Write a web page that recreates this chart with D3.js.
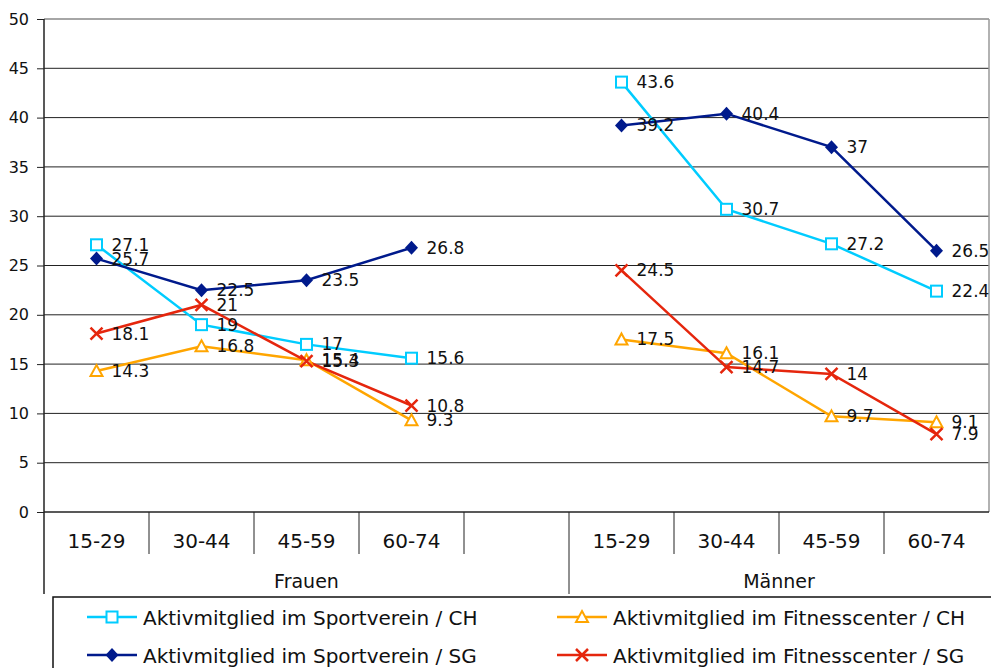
<!DOCTYPE html>
<html>
<head>
<meta charset="utf-8">
<script src="https://cdn.jsdelivr.net/npm/d3@7"></script>
<style>
  body { margin: 0; background: #fff; }
  text { font-family: "DejaVu Sans", Verdana, sans-serif; fill: #111; }
</style>
</head>
<body>
<div id="chart"></div>
<script>
// slots on the category axis (one empty slot between the groups)
var slots = ["F1", "F2", "F3", "F4", "gap", "M1", "M2", "M3", "M4"];
var slotLabels = ["15-29", "30-44", "45-59", "60-74", "", "15-29", "30-44", "45-59", "60-74"];
var groups = ["Frauen", "Männer"];
var yTicks = [0, 5, 10, 15, 20, 25, 30, 35, 40, 45, 50];

var seriesNames = [
  "Aktivmitglied im Sportverein / CH",
  "Aktivmitglied im Fitnesscenter / CH",
  "Aktivmitglied im Sportverein / SG",
  "Aktivmitglied im Fitnesscenter / SG"
];

// values per slot, null = no point
var sportCH   = [27.1, 19, 17, 15.6, null, 43.6, 30.7, 27.2, 22.4];
var fitnessCH = [14.3, 16.8, 15.4, 9.3, null, 17.5, 16.1, 9.7, 9.1];
var sportSG   = [25.7, 22.5, 23.5, 26.8, null, 39.2, 40.4, 37, 26.5];
var fitnessSG = [18.1, 21, 15.3, 10.8, null, 24.5, 14.7, 14, 7.9];

var svgWidth = 991;
var svgHeight = 668;

var margin = { top: 19, right: 2, bottom: 156, left: 44 };
var width = svgWidth - margin.left - margin.right;
var height = svgHeight - margin.top - margin.bottom;

var svg = d3.select("#chart")
  .append("svg")
  .attr("width", svgWidth)
  .attr("height", svgHeight);

var chartGroup = svg.append("g")
  .attr("transform", `translate(${margin.left}, ${margin.top})`);

var xScale = d3.scaleBand()
  .domain(slots)
  .range([0, width])
  .padding(0);

var yScale = d3.scaleLinear()
  .domain([0, 50])
  .range([height, 0]);

// gridlines
chartGroup.selectAll(".grid")
  .data(yTicks.filter(d => d > 0))
  .enter()
  .append("line")
  .attr("x1", 0)
  .attr("x2", width)
  .attr("y1", d => yScale(d))
  .attr("y2", d => yScale(d))
  .attr("stroke", d => d === 50 ? "#888" : "#222")
  .attr("stroke-width", d => d === 50 ? 1.5 : 1);

// right border
chartGroup.append("line")
  .attr("x1", width).attr("x2", width)
  .attr("y1", 0).attr("y2", height)
  .attr("stroke", "#999")
  .attr("stroke-width", 1.5);

// y axis
var leftAxis = d3.axisLeft(yScale).tickValues(yTicks).tickSize(7).tickPadding(8);
var yAxisG = chartGroup.append("g").call(leftAxis);
yAxisG.select(".domain").remove();
yAxisG.selectAll("line").attr("stroke", "#222");
yAxisG.selectAll("text")
  .style("font-family", "DejaVu Sans, Verdana, sans-serif")
  .style("font-size", "16px")
  .attr("fill", "#111");

chartGroup.append("line")
  .attr("x1", 0).attr("x2", 0)
  .attr("y1", 0).attr("y2", height + 82)
  .attr("stroke", "#222")
  .attr("stroke-width", 1.5);

// x axis baseline
chartGroup.append("line")
  .attr("x1", 0).attr("x2", width)
  .attr("y1", height).attr("y2", height)
  .attr("stroke", "#222")
  .attr("stroke-width", 1.5);

// category separators
slots.forEach(function(s, i) {
  if (i === 0) return;
  var x = xScale(s);
  chartGroup.append("line")
    .attr("x1", x).attr("x2", x)
    .attr("y1", height)
    .attr("y2", height + (s === "M1" ? 82 : 42))
    .attr("stroke", "#222")
    .attr("stroke-width", 1);
});

// category labels
chartGroup.selectAll(".catLabel")
  .data(slots)
  .enter()
  .append("text")
  .attr("x", d => xScale(d) + xScale.bandwidth() / 2)
  .attr("y", height + 36)
  .attr("text-anchor", "middle")
  .style("font-size", "20px")
  .text((d, i) => slotLabels[i]);

// group labels
var groupCenters = [
  (xScale("F1") + xScale("M1")) / 2,
  (xScale("M1") + width) / 2
];
chartGroup.selectAll(".groupLabel")
  .data(groups)
  .enter()
  .append("text")
  .attr("x", (d, i) => groupCenters[i])
  .attr("y", height + 76)
  .attr("text-anchor", "middle")
  .style("font-size", "19px")
  .text(d => d);

// marker drawing
function drawMarker(g, type, color) {
  if (type === "square") {
    g.append("rect")
      .attr("x", -5.5).attr("y", -5.5)
      .attr("width", 11).attr("height", 11)
      .attr("fill", "#fff")
      .attr("stroke", color)
      .attr("stroke-width", 2);
  } else if (type === "triangle") {
    g.append("path")
      .attr("d", "M0,-6L6,5L-6,5Z")
      .attr("fill", "#fff")
      .attr("stroke", color)
      .attr("stroke-width", 2);
  } else if (type === "diamond") {
    g.append("path")
      .attr("d", "M0,-7L6.5,0L0,7L-6.5,0Z")
      .attr("fill", color);
  } else {
    g.append("path")
      .attr("d", "M-6,-6L6,6M-6,6L6,-6")
      .attr("stroke", color)
      .attr("stroke-width", 2.5)
      .attr("fill", "none");
  }
}

var series = [
  { name: seriesNames[0], values: sportCH,   color: "#00ccff", marker: "square" },
  { name: seriesNames[1], values: fitnessCH, color: "#ffa500", marker: "triangle" },
  { name: seriesNames[2], values: sportSG,   color: "#001a8c", marker: "diamond" },
  { name: seriesNames[3], values: fitnessSG, color: "#e5260d", marker: "x" }
];

var cx = i => xScale(slots[i]) + xScale.bandwidth() / 2;

var line = d3.line()
  .defined(d => d.v !== null)
  .x(d => cx(d.i))
  .y(d => yScale(d.v));

series.forEach(function(s) {
  var pts = s.values.map((v, i) => ({ v: v, i: i }));
  chartGroup.append("path")
    .datum(pts)
    .attr("d", line)
    .attr("fill", "none")
    .attr("stroke", s.color)
    .attr("stroke-width", 2.5);
});

series.forEach(function(s) {
  s.values.forEach(function(v, i) {
    if (v === null) return;
    var g = chartGroup.append("g")
      .attr("transform", `translate(${cx(i)}, ${yScale(v)})`);
    drawMarker(g, s.marker, s.color);
  });
});

// data labels
series.forEach(function(s) {
  s.values.forEach(function(v, i) {
    if (v === null) return;
    chartGroup.append("text")
      .attr("x", cx(i) + 15)
      .attr("y", yScale(v) + 6)
      .style("font-size", "17px")
      .text(v);
  });
});

// legend
var legend = svg.append("g").attr("transform", "translate(53, 597)");
legend.append("rect")
  .attr("x", 0).attr("y", 0)
  .attr("width", 960).attr("height", 100)
  .attr("fill", "#fff")
  .attr("stroke", "#111")
  .attr("stroke-width", 1.5);

var legendPos = [[34, 20], [504, 20], [34, 58], [504, 58]];
series.forEach(function(s, j) {
  var p = legendPos[j];
  var lg = legend.append("g").attr("transform", `translate(${p[0]}, ${p[1]})`);
  lg.append("line")
    .attr("x1", 0).attr("x2", 50)
    .attr("stroke", s.color)
    .attr("stroke-width", 2.5);
  drawMarker(lg.append("g").attr("transform", "translate(25,0)"), s.marker, s.color);
  lg.append("text")
    .attr("x", 56)
    .attr("y", 8)
    .style("font-size", "20px")
    .text(s.name);
});
</script>
</body>
</html>
